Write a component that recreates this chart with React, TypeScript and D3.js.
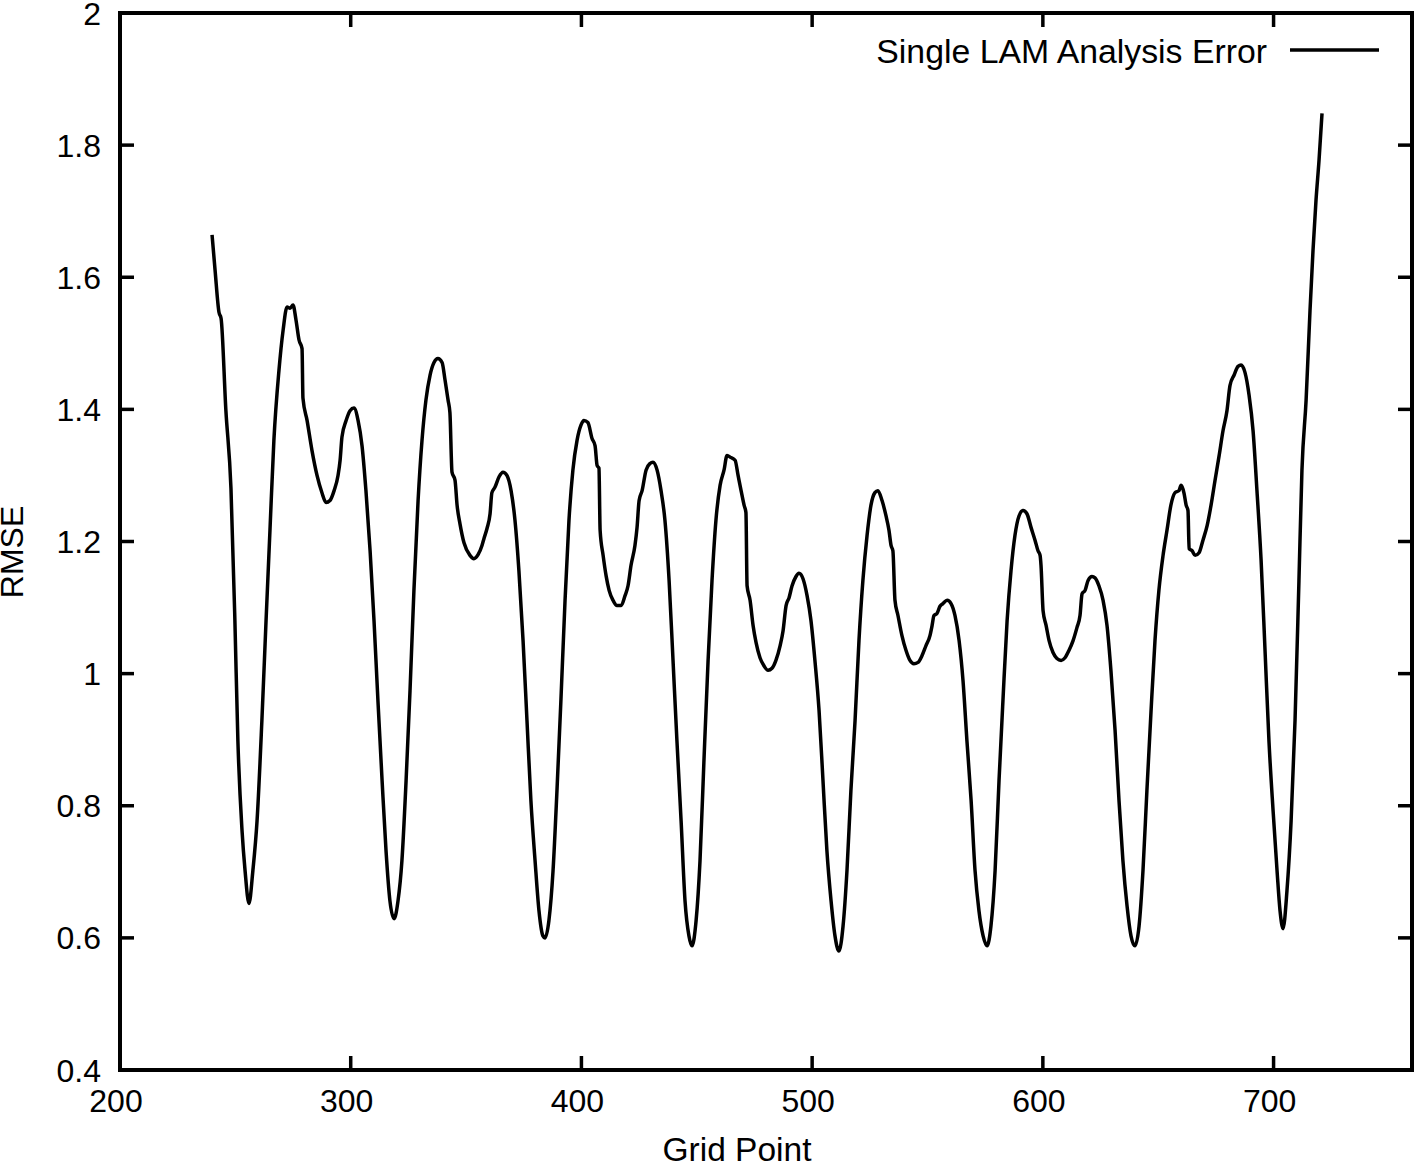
import React, { useEffect, useRef } from "react";
import * as d3 from "d3";

// Grid point positions (x axis)
const GRID_POINTS = [
  239.9, 241.2, 242.9, 243.8, 245.9, 248.1, 249.8, 251.1, 252.9, 254.2,
  255.9, 257.6, 259.4, 261.5, 263.3, 265.0, 266.7, 268.9, 270.7, 272.4,
  273.7, 275.0, 276.3, 277.6, 278.9, 279.3, 281.1, 283.2, 285.4, 287.6,
  289.3, 291.0, 292.8, 294.5, 295.4, 296.2, 298.0, 299.7, 301.4, 303.2,
  304.9, 306.6, 308.4, 310.1, 311.8, 313.6, 315.3, 317.0, 318.8, 320.5,
  322.2, 324.0, 325.7, 327.4, 329.2, 330.9, 332.6, 334.4, 336.1, 337.8,
  339.6, 340.9, 342.2, 343.0, 343.9, 345.2, 346.1, 347.4, 349.1, 351.7,
  353.4, 355.2, 356.9, 357.8, 359.1, 360.4, 361.2, 362.5, 364.3, 366.0,
  367.7, 369.5, 371.2, 372.9, 374.7, 376.4, 378.1, 379.9, 381.6, 383.3,
  384.2, 385.9, 387.7, 389.4, 391.1, 392.9, 394.6, 396.3, 398.1, 399.8,
  401.1, 402.8, 404.6, 405.9, 406.8, 407.6, 408.1, 409.4, 410.7, 412.0,
  413.7, 415.4, 417.2, 418.9, 420.2, 421.5, 423.2, 424.1, 425.0, 426.3,
  428.0, 429.7, 431.0, 432.8, 434.5, 436.2, 438.0, 439.7, 441.4, 443.2,
  444.9, 446.6, 447.9, 449.7, 451.4, 453.1, 454.9, 456.6, 458.3, 460.1,
  461.8, 463.1, 464.8, 466.6, 467.9, 469.2, 470.5, 471.3, 471.8, 473.1,
  474.4, 475.7, 477.4, 479.1, 480.9, 482.6, 484.3, 486.1, 487.4, 488.7,
  490.0, 491.3, 493.0, 494.3, 496.0, 497.8, 499.5, 501.2, 503.0, 504.7,
  506.4, 508.2, 509.9, 511.6, 513.4, 515.1, 516.8, 518.6, 520.3, 522.0,
  523.8, 525.5, 527.2, 528.5, 530.3, 532.0, 533.3, 534.2, 535.0, 535.9,
  537.2, 538.9, 540.7, 542.4, 544.1, 545.9, 547.6, 549.3, 551.1, 552.0,
  552.8, 554.1, 555.4, 556.7, 558.5, 560.2, 561.9, 563.7, 565.4, 567.1,
  568.9, 570.6, 572.3, 574.1, 575.8, 577.5, 579.3, 581.0, 582.7, 584.5,
  586.2, 587.9, 589.7, 591.4, 593.1, 594.9, 596.6, 597.9, 598.8, 599.2,
  600.1, 601.4, 602.7, 604.4, 606.1, 607.9, 609.6, 611.3, 613.1, 614.8,
  616.1, 617.0, 618.3, 619.6, 621.3, 622.6, 624.3, 626.1, 627.8, 629.5,
  631.3, 633.0, 634.7, 636.5, 638.2, 639.9, 641.7, 643.4, 645.1, 646.9,
  648.6, 650.3, 652.1, 653.8, 655.5, 657.3, 659.0, 659.9, 661.2, 662.1,
  662.9, 663.4, 664.7, 666.0, 667.7, 669.4, 671.2, 672.9, 674.6, 676.4,
  678.1, 679.8, 681.1, 682.9, 684.6, 685.9, 687.6, 689.4, 691.1, 692.8,
  694.6, 696.3, 698.0, 699.8, 701.5, 702.8, 704.1, 705.8, 707.6, 709.3,
  711.0, 712.3, 714.1, 715.8, 717.1, 718.4, 719.7, 721.0,
];

// RMSE of the single LAM analysis at each grid point above
const RMSE_VALUES = [
  1.664, 1.611, 1.547, 1.538, 1.398, 1.280, 1.080, 0.898, 0.762, 0.702,
  0.652, 0.702, 0.777, 0.929, 1.080, 1.217, 1.353, 1.459, 1.520, 1.555,
  1.553, 1.558, 1.535, 1.505, 1.492, 1.417, 1.383, 1.338, 1.300, 1.273,
  1.259, 1.262, 1.277, 1.300, 1.323, 1.358, 1.383, 1.398, 1.402, 1.383,
  1.345, 1.277, 1.186, 1.080, 0.959, 0.838, 0.732, 0.656, 0.629, 0.656,
  0.717, 0.838, 0.974, 1.126, 1.262, 1.353, 1.414, 1.452, 1.471, 1.477,
  1.471, 1.444, 1.414, 1.395, 1.305, 1.293, 1.255, 1.226, 1.198, 1.179,
  1.174, 1.180, 1.194, 1.205, 1.220, 1.242, 1.274, 1.282, 1.298, 1.305,
  1.300, 1.277, 1.232, 1.156, 1.050, 0.929, 0.808, 0.717, 0.641, 0.603,
  0.600, 0.626, 0.702, 0.823, 0.959, 1.111, 1.232, 1.308, 1.353, 1.376,
  1.383, 1.380, 1.356, 1.345, 1.315, 1.311, 1.217, 1.179, 1.148, 1.126,
  1.111, 1.103, 1.103, 1.118, 1.133, 1.164, 1.194, 1.221, 1.262, 1.277,
  1.308, 1.318, 1.320, 1.308, 1.277, 1.232, 1.141, 1.020, 0.898, 0.777,
  0.656, 0.603, 0.588, 0.626, 0.717, 0.868, 1.020, 1.141, 1.232, 1.285,
  1.308, 1.330, 1.327, 1.323, 1.300, 1.277, 1.255, 1.244, 1.133, 1.111,
  1.073, 1.047, 1.024, 1.012, 1.005, 1.008, 1.020, 1.042, 1.065, 1.103,
  1.115, 1.133, 1.147, 1.152, 1.144, 1.118, 1.080, 1.020, 0.944, 0.838,
  0.732, 0.656, 0.603, 0.580, 0.618, 0.702, 0.823, 0.929, 1.050, 1.141,
  1.209, 1.255, 1.274, 1.277, 1.262, 1.239, 1.217, 1.194, 1.186, 1.111,
  1.088, 1.058, 1.035, 1.020, 1.015, 1.017, 1.027, 1.042, 1.058, 1.073,
  1.088, 1.091, 1.102, 1.106, 1.111, 1.106, 1.088, 1.050, 0.989, 0.898,
  0.808, 0.702, 0.641, 0.603, 0.588, 0.618, 0.702, 0.838, 0.959, 1.080,
  1.156, 1.209, 1.239, 1.247, 1.242, 1.221, 1.202, 1.186, 1.179, 1.164,
  1.095, 1.073, 1.050, 1.032, 1.023, 1.020, 1.024, 1.035, 1.050, 1.070,
  1.088, 1.121, 1.126, 1.141, 1.147, 1.145, 1.133, 1.111, 1.073, 1.005,
  0.914, 0.808, 0.717, 0.648, 0.603, 0.588, 0.618, 0.702, 0.823, 0.944,
  1.050, 1.126, 1.179, 1.217, 1.255, 1.274, 1.277, 1.285, 1.273, 1.255,
  1.247, 1.189, 1.186, 1.179, 1.183, 1.202, 1.224, 1.255, 1.292, 1.330,
  1.368, 1.398, 1.436, 1.452, 1.465, 1.467, 1.456, 1.421, 1.368, 1.277,
  1.171, 1.035, 0.898, 0.792, 0.702, 0.641, 0.614, 0.671, 0.777, 0.929,
  1.141, 1.308, 1.414, 1.550, 1.641, 1.717, 1.777, 1.848,
];

const X_TICKS = [200, 300, 400, 500, 600, 700];
const Y_TICKS = [0.4, 0.6, 0.8, 1.0, 1.2, 1.4, 1.6, 1.8, 2.0];
const SERIES_LABEL = "Single LAM Analysis Error";

const WIDTH = 1416;
const HEIGHT = 1163;
const FONT = "'Liberation Sans', Arial, Helvetica, sans-serif";

export default function App() {
  const svgRef = useRef<SVGSVGElement>(null);

  useEffect(() => {
    if (!svgRef.current) return;
    const svg = d3.select(svgRef.current);
    svg.selectAll("*").remove();

    const left = 120;
    const right = 1412;
    const top = 13;
    const bottom = 1070;
    const tickLen = 14;

    const x = d3.scaleLinear().domain([200, 760]).range([left, right]);
    const y = d3.scaleLinear().domain([0.4, 2]).range([bottom, top]);

    const data = GRID_POINTS.map((g, i) => ({ g, v: RMSE_VALUES[i] }));

    svg
      .append("rect")
      .attr("width", WIDTH)
      .attr("height", HEIGHT)
      .attr("fill", "#fff");

    // ticks on all four sides, pointing inward
    const ticks = svg.append("g").attr("stroke", "#000").attr("stroke-width", 3.5);
    X_TICKS.forEach((t) => {
      ticks.append("line").attr("x1", x(t)).attr("x2", x(t)).attr("y1", bottom).attr("y2", bottom - tickLen);
      ticks.append("line").attr("x1", x(t)).attr("x2", x(t)).attr("y1", top).attr("y2", top + tickLen);
    });
    Y_TICKS.forEach((t) => {
      ticks.append("line").attr("x1", left).attr("x2", left + tickLen).attr("y1", y(t)).attr("y2", y(t));
      ticks.append("line").attr("x1", right).attr("x2", right - tickLen).attr("y1", y(t)).attr("y2", y(t));
    });

    // tick labels
    const labels = svg
      .append("g")
      .attr("font-family", FONT)
      .attr("font-size", 32)
      .attr("fill", "#000");

    labels
      .selectAll(".xlab")
      .data(X_TICKS)
      .join("text")
      .attr("class", "xlab")
      .attr("x", (d) => x(d) - 4)
      .attr("y", 1112)
      .attr("text-anchor", "middle")
      .text((d) => String(d));

    labels
      .selectAll(".ylab")
      .data(Y_TICKS)
      .join("text")
      .attr("class", "ylab")
      .attr("x", 101)
      .attr("y", (d) => y(d) + 11.5)
      .attr("text-anchor", "end")
      .text((d) => d3.format("~g")(d));

    // axis titles
    labels
      .append("text")
      .attr("x", 737)
      .attr("y", 1161)
      .attr("text-anchor", "middle")
      .attr("font-size", 33.5)
      .text("Grid Point");

    labels
      .append("text")
      .attr("transform", "translate(23, 552) rotate(-90)")
      .attr("text-anchor", "middle")
      .text("RMSE");

    // the curve
    const line = d3
      .line<{ g: number; v: number }>()
      .x((d) => x(d.g))
      .y((d) => y(d.v))
      .curve(d3.curveMonotoneX);

    svg
      .append("path")
      .datum(data)
      .attr("d", line)
      .attr("fill", "none")
      .attr("stroke", "#000")
      .attr("stroke-width", 3.5)
      .attr("stroke-linejoin", "round");

    // legend
    labels
      .append("text")
      .attr("x", 1267)
      .attr("y", 63)
      .attr("text-anchor", "end")
      .attr("font-size", 33.8)
      .text(SERIES_LABEL);

    svg
      .append("line")
      .attr("x1", 1290)
      .attr("x2", 1379)
      .attr("y1", 50)
      .attr("y2", 50)
      .attr("stroke", "#000")
      .attr("stroke-width", 3.5);

    // frame
    svg
      .append("rect")
      .attr("x", left)
      .attr("y", top)
      .attr("width", right - left)
      .attr("height", bottom - top)
      .attr("fill", "none")
      .attr("stroke", "#000")
      .attr("stroke-width", 4);
  }, []);

  return (
    <svg
      ref={svgRef}
      width={WIDTH}
      height={HEIGHT}
      style={{ position: "absolute", left: 0, top: 0, display: "block" }}
    />
  );
}
